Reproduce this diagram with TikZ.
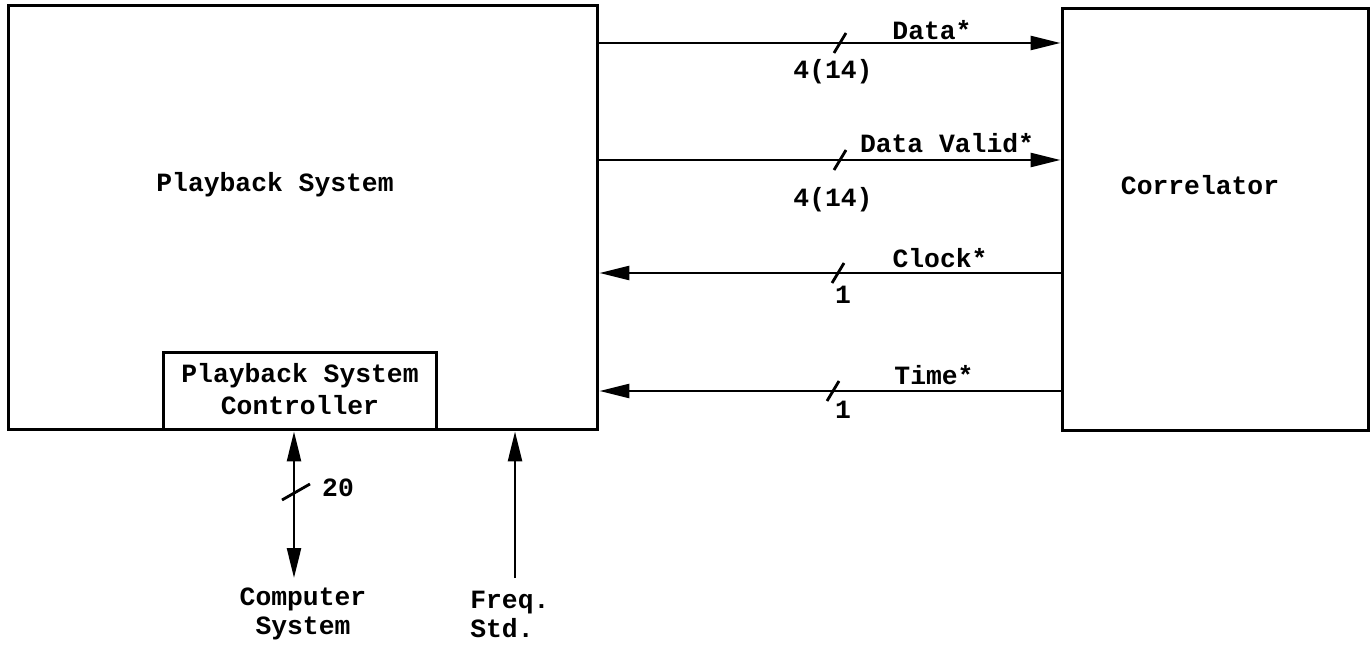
\documentclass[tikz,border=0pt]{standalone}
\usepackage{fontspec}
\setmainfont{Liberation Mono}
\usetikzlibrary{positioning,arrows.meta}

\begin{document}
\begin{tikzpicture}[
      x=0.02cm, y=-0.02cm,
      font=\fontsize{15}{17}\selectfont\bfseries,
      box/.style={draw, line width=1.7pt, inner sep=0pt},
      sig/.style={-{Triangle[length=0.6cm, width=0.28cm]}, line width=1.4pt},
      tick/.style={line width=1.6pt},
      lbl/.style={inner sep=0pt, align=center}
    ]
    \useasboundingbox (0,0) rectangle (1372,645);

    \node[box, minimum width=11.8cm, minimum height=8.5cm]   (pb)  at (303,217.5) {};
    \node[box, minimum width=6.14cm, minimum height=8.46cm]  (cor) at (1215.5,219.5) {};
    \node[box, minimum width=5.48cm, minimum height=1.56cm]  (ctl) at (300,391) {};

    \node[lbl] (pbt)  at (275,185)  {Playback System};
    \node[lbl] (cort) at (1200,185) {Correlator};
    \node[lbl, font=\fontsize{15}{18.5}\selectfont\bfseries] (ctlt) at (300,389) {Playback System\\Controller};

    \draw[sig] (pb.east |- 0,43)  -- (cor.west |- 0,43);
    \draw[sig] (pb.east |- 0,160) -- (cor.west |- 0,160);
    \draw[sig] (cor.west |- 0,273) -- (pb.east |- 0,273);
    \draw[sig] (cor.west |- 0,391) -- (pb.east |- 0,391);

    \draw[tick] (834,53)  -- (846,33);
    \draw[tick] (834,170) -- (846,150);
    \draw[tick] (832,283) -- (844,263);
    \draw[tick] (827,401) -- (839,381);

    \node[lbl] (d)   at (932,30)  {Data*};
    \node[lbl] (dn)  at (833,72)  {4(14)};
    \node[lbl] (dv)  at (947,143) {Data Valid*};
    \node[lbl] (dvn) at (833,200) {4(14)};
    \node[lbl] (ck)  at (940,258) {Clock*};
    \node[lbl] (ckn) at (843,295) {1};
    \node[lbl] (tm)  at (934,375) {Time*};
    \node[lbl] (tmn) at (843,410) {1};

    % external connections
    \coordinate (cs) at (294,578);
    \coordinate (fs) at (515,578);
    \draw[sig, {Triangle[length=0.6cm, width=0.28cm]}-{Triangle[length=0.6cm, width=0.28cm]}] (cs |- ctl.south) -- (cs);
    \draw[sig] (fs) -- (fs |- pb.south);
    \draw[tick] (282,500) -- (310,484);
    \node[lbl] (bw) at (338,488) {20};

    \node[lbl, font=\fontsize{15}{16.5}\selectfont\bfseries] (cst) at (303,614) {Computer\\System};
    \node[lbl, anchor=west, align=left, font=\fontsize{15}{16.5}\selectfont\bfseries] (fst) at (470,614) {Freq.\\Std.};
  \end{tikzpicture}
\end{document}
